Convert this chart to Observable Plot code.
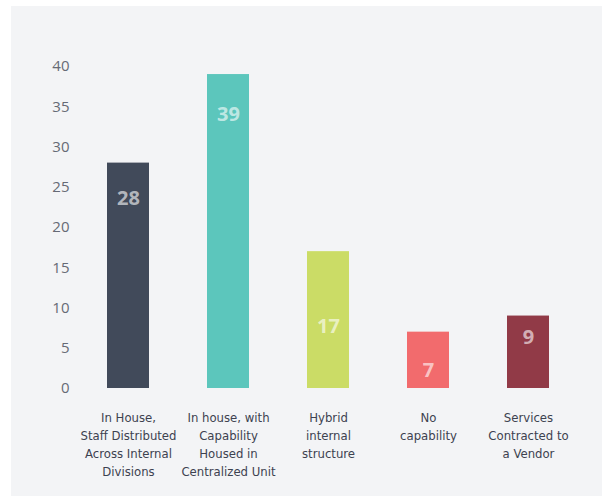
<!DOCTYPE html>
<html>
<head>
<meta charset="utf-8">
<script src="https://cdn.jsdelivr.net/npm/d3@7"></script>
<script src="https://cdn.jsdelivr.net/npm/@observablehq/plot@0.6"></script>
<style>
  html, body { margin: 0; padding: 0; background: #ffffff; }
  #chart { position: absolute; left: 11px; top: 6px; width: 591px; height: 490px; background: #f3f4f6; }
  #chart svg { background: transparent; }
  #chart svg g[aria-label="x-axis tick label"] text { font-stretch: condensed; }
</style>
</head>
<body>
<div id="chart"></div>
<script>
const categories = [
  "In House,\nStaff Distributed\nAcross Internal\nDivisions",
  "In house, with\nCapability\nHoused in\nCentralized Unit",
  "Hybrid\ninternal\nstructure",
  "No\ncapability",
  "Services\nContracted to\na Vendor"
];
const values = [28, 39, 17, 7, 9];
const labelAt = [23.6, 34, 7.7, 2.2, 6.3];
const colors = ["#414a5a", "#5cc6bc", "#cbdc66", "#f26b6d", "#913a47"];
const yTicks = [0, 5, 10, 15, 20, 25, 30, 35, 40];

const data = categories.map((c, i) => ({cat: c, value: values[i], at: labelAt[i], color: colors[i]}));

const chart = Plot.plot({
  width: 591,
  height: 490,
  marginLeft: 67,
  marginRight: 25,
  marginTop: 60,
  marginBottom: 108,
  style: {background: "transparent", fontFamily: "'Open Sans', sans-serif"},
  x: {domain: categories, paddingInner: 0.58, paddingOuter: 0.285, label: null},
  y: {domain: [0, 40], label: null},
  marks: [
    Plot.axisY({
      ticks: yTicks, tickSize: 0, tickPadding: 9, label: null,
      fontSize: 15, fill: "#666a75", fontFamily: "'Open Sans', sans-serif"
    }),
    Plot.axisX({
      tickSize: 0, tickPadding: 21, label: null, lineAnchor: "top", lineHeight: 1.38,
      fontSize: 13, fill: "#3d4250", fontFamily: "'DejaVu Sans', sans-serif"
    }),
    Plot.barY(data, {x: "cat", y: "value", fill: d => d.color}),
    Plot.text(data, {
      x: "cat", y: "at", text: d => String(d.value),
      fill: "white", fillOpacity: 0.62, fontSize: 20, fontWeight: "bold",
      fontFamily: "'Open Sans', sans-serif"
    })
  ]
});
document.getElementById("chart").appendChild(chart);
</script>
</body>
</html>
